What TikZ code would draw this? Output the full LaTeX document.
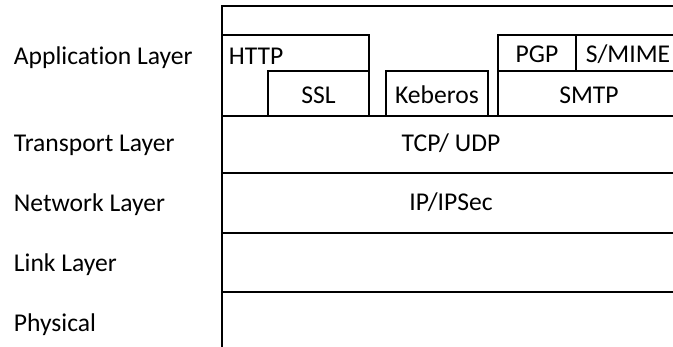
\documentclass[tikz,border=0pt]{standalone}
\usepackage{fontspec}
\setmainfont[Ligatures=NoCommon]{Carlito}
\begin{document}
\begin{tikzpicture}[x=.5pt,y=-.5pt,line width=.9pt,
  font=\fontsize{12.8}{15}\selectfont,
  lbl/.style={anchor=base,inner sep=0pt}]
  \useasboundingbox (0,0) rectangle (673,347);
  \clip (0,0) rectangle (673,347);
  % stack of layers, cut off at the right and at the bottom.
  \draw (222,6) rectangle (680,116);
  \foreach \ya/\yb in {116/173,173/233,233/292,292/360}{
    \draw (222,\ya) rectangle (680,\yb);
  }
  % application layer: HTTP over SSL, Keberos, PGP and S/MIME over SMTP.
  \draw (222,35) rectangle (369,116);
  \draw (268,71) rectangle (369,116);
  \draw (386,71) rectangle (488,116);
  \draw (498,71) rectangle (680,116);
  \draw (498,35) rectangle (576,71);
  \draw (576,35) rectangle (680,71);
  \node[lbl,anchor=base west] (http) at (228,65) {HTTP};
  \node[lbl] (ssl) at (318.5,104) {SSL};
  \node[lbl] (kerb) at (437,104) {Keberos};
  \node[lbl] (smtp) at (589,104) {SMTP};
  \node[lbl] (pgp) at (537,63) {PGP};
  \node[lbl] (smime) at (628,63) {S/MIME};
  % lower layers.
  \node[lbl] (tcp) at (451,152) {TCP/ UDP};
  \node[lbl] (ip) at (451,210.5) {IP/IPSec};
  % layer names on the left.
  \foreach \n/\y/\t in {app/65/Application Layer,trans/152/Transport Layer,
    net/211.5/Network Layer,link/271.5/Link Layer,phys/331.5/Physical}{
    \node[lbl,anchor=base west] (\n) at (13,\y) {\t};
  }
\end{tikzpicture}
\end{document}
